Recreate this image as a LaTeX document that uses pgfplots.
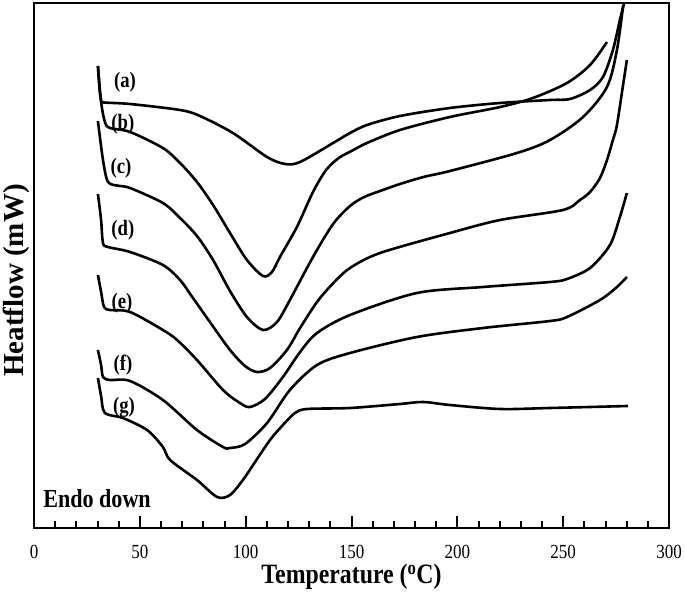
\documentclass[border=0pt]{standalone}
\usepackage{fontspec}
\setmainfont{Liberation Serif}[FakeStretch=0.85]
\newfontfamily\plainserif{Liberation Serif}
\usepackage{pgfplots}
\pgfplotsset{compat=1.18}
\pgfplotsset{dsc/.style={black, line width=2.6bp, smooth, tension=0.5}}

\begin{document}
\begin{tikzpicture}
\begin{axis}[
    scale only axis,
    width=635bp, height=525bp,
    xmin=0, xmax=300, ymin=0, ymax=525,
    xtick={0,50,...,300},
    minor x tick num=4,
    ytick=\empty,
    tick pos=left,
    tick align=inside,
    major tick length=12bp,
    minor tick length=7bp,
    axis line style={line width=2.5bp},
    x tick style={black, line width=2bp},
    /pgf/number format/assume math mode=true,
    xticklabel style={font=\fontsize{20bp}{24bp}\selectfont, anchor=base, yshift=-30bp},
    xlabel={Temperature (\textsuperscript{o}C)},
    xlabel style={at={(rel axis cs:0.5,0)}, anchor=base, yshift=-55bp,
        font=\fontsize{28bp}{30bp}\selectfont\bfseries},
    ylabel={Heatflow (mW)},
    ylabel style={at={(rel axis cs:0,0.5)}, anchor=center, xshift=-15bp, yshift=18bp,
        font=\fontsize{29bp}{31bp}\plainserif\bfseries},
]
% (a)
\addplot[dsc] coordinates {
(30.2,462) (31.0,438) (31.8,427) (33.0,425.5) (45.4,424) (69.0,418) (78.4,412)
(94.0,395) (110.1,371) (118.6,364) (125.7,366) (141.3,385) (149.3,395)
(157.3,403) (172.9,412) (196.5,420) (220.2,425) (243.8,428) (253.2,429)
(262.7,438) (268.8,451) (273.5,478) (276.8,508) (278.7,524)
};
% (b)
\addplot[dsc] coordinates {
(30.2,462) (31.7,426) (33.5,406) (35.9,400) (45.4,396) (60.9,380) (69.0,365)
(77.0,346) (84.6,323) (92.6,295) (100.6,268) (108.2,252) (112.4,256)
(116.2,271) (124.2,301) (131.8,336) (138.0,358) (144.0,370) (150.0,377)
(157.3,385) (172.9,398) (196.5,411) (220.2,421) (235.7,430) (251.8,445)
(262.7,463) (270.7,486)
};
% (c)
\addplot[dsc] coordinates {
(30.2,407) (32.6,368) (35.0,346) (40.6,342) (45.4,340) (60.9,325) (69.0,310)
(77.0,292) (84.6,268) (92.6,237) (100.6,211) (108.2,198) (114.8,206)
(120.9,228) (131.8,271) (141.3,304) (149.3,322) (156.0,331) (163.5,337)
(172.9,344) (184.0,351) (196.5,357) (228.2,375) (243.8,388) (259.4,411)
(270.7,441) (275.4,478) (278.3,522)
};
% (d)
\addplot[dsc] coordinates {
(30.2,334) (31.7,308) (32.6,285) (35.0,281) (45.4,276) (60.9,263) (69.0,248)
(75.1,230) (83.1,206) (92.6,178) (99.7,162) (105.4,156) (111.5,160)
(119.5,178) (125.7,200) (133.7,226) (141.0,244) (149.3,260) (163.5,275)
(196.5,295) (220.2,308) (249.9,318) (257.9,328) (262.7,336) (267.4,350)
(270.7,368) (273.5,388) (275.4,403) (278.3,443) (280.1,468)
};
% (e)
\addplot[dsc] coordinates {
(30.2,253) (31.7,236) (33.1,221) (35.9,218) (45.4,216) (60.9,198) (67.6,188)
(77.0,168) (89.3,138) (97.3,125) (102.0,121) (109.1,129) (117.6,151)
(125.7,176) (133.7,195) (149.3,213) (180.9,235) (212.1,241) (243.8,246)
(251.8,249) (262.7,260) (272.1,283) (276.8,311) (280.1,335)
};
% (f)
\addplot[dsc] coordinates {
(30.2,178) (31.7,163) (32.6,151) (35.9,148) (45.4,147) (60.9,128) (77.0,98)
(89.3,81) (92.6,80) (99.7,84) (110.1,105) (120.9,138) (133.7,163)
(149.3,175) (180.9,191) (212.1,200) (243.8,207) (251.8,211) (267.4,228)
(275.4,241) (280.1,251)
};
% (g)
\addplot[dsc] coordinates {
(30.2,150) (31.7,132) (33.5,115) (42.0,110) (53.4,98) (60.9,81) (64.3,68)
(77.0,48) (86.5,31) (92.6,33) (98.7,48) (103.5,63) (111.5,88) (117.6,103)
(123.3,115) (129.0,119) (149.3,120) (172.9,124) (183.8,126) (196.5,123)
(220.2,119) (243.8,120) (280.6,122)
};
\begin{scope}[every node/.style={font=\fontsize{22bp}{24bp}\selectfont\bfseries}]
\node at (axis cs:43.0,446) {(a)};
\node at (axis cs:42.0,404) {(b)};
\node at (axis cs:41.1,360) {(c)};
\node at (axis cs:42.0,298) {(d)};
\node at (axis cs:41.6,225) {(e)};
\node at (axis cs:42.0,163) {(f)};
\node at (axis cs:42.5,121) {(g)};
\end{scope}
\node[anchor=base west, inner sep=0pt, font=\fontsize{26bp}{28bp}\selectfont\bfseries]
    at (axis cs:4.3,21) {Endo down};
\end{axis}
\pgfresetboundingbox
\path (-34bp,-64bp) rectangle (651bp,528bp);
\end{tikzpicture}
\end{document}
